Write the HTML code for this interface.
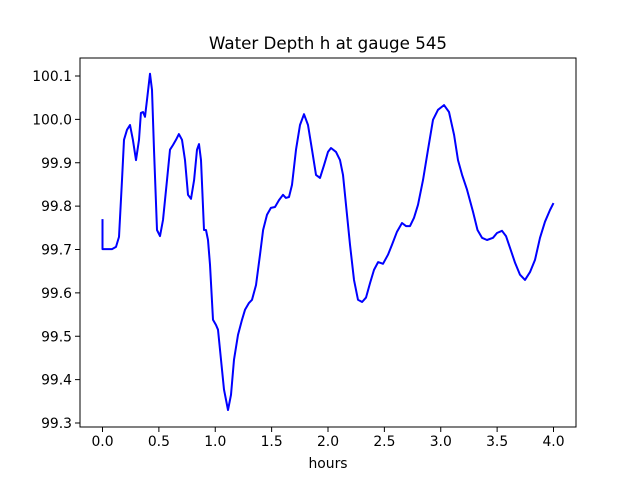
<!DOCTYPE html>
<html><head><meta charset="utf-8"><style>
body{margin:0;background:#fff}
svg text{font-family:"DejaVu Sans","Liberation Sans",sans-serif;fill:#000}
</style></head><body>
<svg id="chart" width="640" height="480" viewBox="0 0 640 480" xmlns="http://www.w3.org/2000/svg">
<rect width="640" height="480" fill="#fff"/>
<text x="328" y="49" font-size="16.7" text-anchor="middle">Water Depth h at gauge 545</text>
<g id="xticks"></g>
<g id="yticks"></g>
<path id="series" fill="none" stroke="#0000ff" stroke-width="2" stroke-linejoin="round"/>
<rect x="80" y="58" width="496" height="369" fill="none" stroke="#000" stroke-width="1"/>
<text x="328" y="468" font-size="13.9" text-anchor="middle">hours</text>
</svg>
<script>
const hours=[0,0,0.084,0.12,0.146,0.173,0.191,0.217,0.244,0.27,0.297,0.324,0.341,0.359,0.377,0.395,0.421,0.439,0.457,0.483,0.51,0.537,0.572,0.599,0.625,0.652,0.678,0.705,0.732,0.758,0.785,0.812,0.838,0.856,0.874,0.9,0.918,0.936,0.953,0.98,1.007,1.024,1.051,1.078,1.113,1.14,1.166,1.202,1.237,1.264,1.299,1.326,1.361,1.397,1.424,1.459,1.494,1.53,1.565,1.601,1.627,1.654,1.681,1.716,1.752,1.787,1.823,1.858,1.894,1.929,1.965,2.0,2.027,2.071,2.106,2.133,2.16,2.195,2.231,2.266,2.302,2.337,2.373,2.408,2.444,2.488,2.532,2.568,2.612,2.656,2.692,2.727,2.763,2.798,2.843,2.887,2.931,2.976,3.029,3.073,3.118,3.153,3.189,3.233,3.286,3.326,3.366,3.41,3.463,3.499,3.543,3.579,3.614,3.659,3.703,3.747,3.792,3.836,3.88,3.925,3.969,4.0];
const depth=[99.770,99.701,99.701,99.706,99.729,99.860,99.953,99.976,99.987,99.953,99.906,99.953,100.015,100.017,100.006,100.045,100.105,100.068,99.930,99.745,99.731,99.768,99.860,99.930,99.941,99.953,99.966,99.953,99.906,99.826,99.817,99.860,99.930,99.943,99.906,99.745,99.745,99.722,99.665,99.538,99.526,99.515,99.446,99.377,99.330,99.365,99.446,99.503,99.538,99.561,99.577,99.584,99.618,99.688,99.745,99.780,99.796,99.798,99.814,99.826,99.819,99.821,99.849,99.930,99.987,100.012,99.987,99.930,99.872,99.865,99.895,99.925,99.934,99.925,99.906,99.872,99.803,99.711,99.630,99.584,99.579,99.589,99.623,99.653,99.671,99.667,99.688,99.711,99.741,99.761,99.754,99.754,99.773,99.803,99.860,99.930,99.999,100.022,100.033,100.017,99.964,99.906,99.872,99.838,99.787,99.745,99.727,99.722,99.727,99.738,99.743,99.731,99.704,99.669,99.642,99.630,99.648,99.676,99.727,99.764,99.791,99.807];
const xTickLabels=["0.0","0.5","1.0","1.5","2.0","2.5","3.0","3.5","4.0"];
const yTickLabels=["99.3","99.4","99.5","99.6","99.7","99.8","99.9","100.0","100.1"];
const NS="http://www.w3.org/2000/svg";
function xs(h){return 102.5+h*112.75;}
function ys(v){return 423-(v-99.3)*433.75;}
const xg=document.getElementById('xticks'),yg=document.getElementById('yticks');
xTickLabels.forEach(l=>{const x=xs(parseFloat(l));
 const t=document.createElementNS(NS,'line');t.setAttribute('x1',x);t.setAttribute('x2',x);t.setAttribute('y1',427);t.setAttribute('y2',432);t.setAttribute('stroke','#000');
 
 
 xg.appendChild(t);
 const tx=document.createElementNS(NS,'text');tx.setAttribute('x',x);tx.setAttribute('y',446);tx.setAttribute('font-size','13.9');tx.setAttribute('text-anchor','middle');tx.textContent=l;
 
 
 xg.appendChild(tx);});
yTickLabels.forEach(l=>{const y=ys(parseFloat(l));
 const t=document.createElementNS(NS,'line');t.setAttribute('x1',75);t.setAttribute('x2',80);t.setAttribute('y1',y);t.setAttribute('y2',y);t.setAttribute('stroke','#000');
 
 
 yg.appendChild(t);
 const tx=document.createElementNS(NS,'text');tx.setAttribute('x',72);tx.setAttribute('y',y+5);tx.setAttribute('font-size','13.9');tx.setAttribute('text-anchor','end');tx.textContent=l;
 
 
 yg.appendChild(tx);});
let d='';hours.forEach((h,i)=>{d+=(i?'L':'M')+xs(h).toFixed(1)+','+ys(depth[i]).toFixed(1);});
document.getElementById('series').setAttribute('d',d);
</script>
</body></html>
